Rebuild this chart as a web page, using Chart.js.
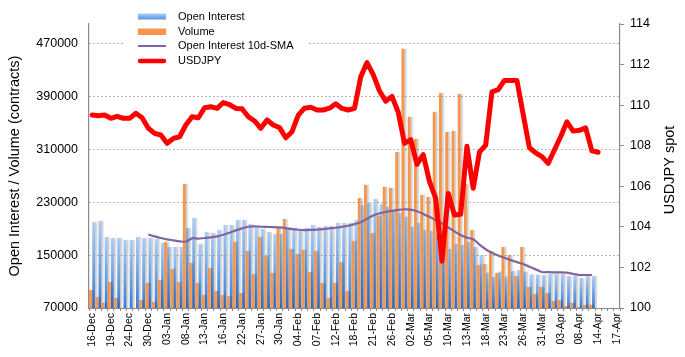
<!DOCTYPE html>
<html><head><meta charset="utf-8">
<script src="https://cdn.jsdelivr.net/npm/chart.js@4.4.1/dist/chart.umd.min.js"></script>
<style>html,body{margin:0;padding:0;background:#fff;}</style>
</head><body>
<canvas id="c" width="685" height="357"></canvas>
<script>
const categories = ['16-Dec','17-Dec','18-Dec','19-Dec','20-Dec','23-Dec','24-Dec','26-Dec','27-Dec','30-Dec','31-Dec','02-Jan','03-Jan','06-Jan','07-Jan','08-Jan','09-Jan','10-Jan','13-Jan','14-Jan','15-Jan','16-Jan','17-Jan','21-Jan','22-Jan','23-Jan','24-Jan','27-Jan','28-Jan','29-Jan','30-Jan','31-Jan','03-Feb','04-Feb','05-Feb','06-Feb','07-Feb','10-Feb','11-Feb','12-Feb','13-Feb','14-Feb','18-Feb','19-Feb','20-Feb','21-Feb','24-Feb','25-Feb','26-Feb','27-Feb','28-Feb','02-Mar','03-Mar','04-Mar','05-Mar','06-Mar','09-Mar','10-Mar','11-Mar','12-Mar','13-Mar','16-Mar','17-Mar','18-Mar','19-Mar','20-Mar','23-Mar','24-Mar','25-Mar','26-Mar','27-Mar','30-Mar','31-Mar','01-Apr','02-Apr','03-Apr','06-Apr','07-Apr','08-Apr','09-Apr','13-Apr','14-Apr','15-Apr','16-Apr','17-Apr'];

const openInterest = [200300,201800,177600,176000,176000,173000,173000,177600,176000,176000,174500,168500,162400,162400,162400,191200,206300,167000,185100,183600,188200,195700,195700,203300,203300,197300,191200,189700,185100,182100,182100,191200,191200,188200,191200,195700,192700,194200,194200,198800,198800,198800,203300,226000,229000,235100,227600,223000,215400,213900,207900,192700,198800,188200,186700,182100,180600,159400,167000,165500,170000,162400,150000,123500,117000,125000,117500,126000,127600,125000,121000,120500,120000,121500,121500,121500,118500,118500,115500,118500,118500,null];

const volume = [97300,86700,78000,109400,85200,null,null,null,82100,107900,79100,112400,170000,129100,109400,257900,138200,107900,89700,130600,95800,89700,88200,170000,92700,156400,121500,177600,148800,123000,192700,204800,159400,151800,157900,124500,156400,107900,85200,107900,139700,95800,171500,236600,256400,183600,210000,253300,251800,306300,462400,359400,326000,241200,238000,367000,395700,336600,338100,394200,257900,188200,135100,136700,156400,123000,162400,150300,118500,162400,101800,91200,101800,92700,80600,82100,73000,77600,71500,74500,75000,null];

const oiSma10 = [null,null,null,null,null,null,null,null,null,181000,178500,176000,174000,172500,171000,170500,175500,175000,176000,177000,178500,181000,184000,187500,190500,193000,193500,193000,192700,192500,192000,191000,189500,188500,188000,188200,188700,189500,190500,191500,193000,194500,197000,200000,205000,210000,213500,215500,217000,218500,219500,219000,216500,212500,208000,203000,198000,192000,186000,180500,176500,174000,166000,159000,153500,149500,146000,142500,139500,136500,132500,128500,124500,124200,124000,124000,123500,121500,120000,120000,120000,null];

const usdjpy = [109.51,109.48,109.51,109.35,109.45,109.35,109.35,109.6,109.38,108.86,108.61,108.53,108.12,108.36,108.44,109.02,109.43,109.38,109.87,109.92,109.84,110.13,110.03,109.84,109.82,109.43,109.22,108.86,109.27,109.02,108.89,108.39,108.69,109.51,109.85,109.9,109.76,109.76,109.85,110.07,109.84,109.76,109.84,111.4,112.1,111.5,110.7,110.2,110.43,109.65,108.12,108.3,107.08,107.56,106.24,105.4,102.3,105.65,104.58,104.62,107.97,105.9,107.68,108.03,110.66,110.76,111.22,111.22,111.22,109.55,107.9,107.65,107.46,107.13,107.79,108.44,109.18,108.72,108.76,108.88,107.75,107.68];

const seriesNames = ['Open Interest','Volume','Open Interest 10d-SMA','USDJPY'];
const leftTitle = 'Open Interest / Volume (contracts)';
const rightTitle = 'USDJPY spot';
const leftTicks = [70000,150000,230000,310000,390000,470000];
const rightTicks = [100,102,104,106,108,110,112,114];
const labelEvery = 3;

const FONT = "'Liberation Sans', Arial, sans-serif";
const AXIS_GREY = '#8a8a8a';

function oiFill(ctx) {
  const chart = ctx.chart;
  const area = chart.chartArea;
  if (!area || ctx.type !== 'data' || ctx.raw == null) return '#6fa8ee';
  const top = chart.scales.y.getPixelForValue(ctx.raw);
  const g = chart.ctx.createLinearGradient(0, top, 0, area.bottom);
  g.addColorStop(0, '#a9cef8');
  g.addColorStop(1, '#3c7cd4');
  return g;
}

const barShadow = {
  id: 'barShadow',
  beforeDatasetDraw(chart, args) {
    const ds = chart.data.datasets[args.index];
    if (ds.type === 'bar') {
      const c = chart.ctx;
      c.save();
      c.shadowColor = 'rgba(0,0,0,0.2)';
      c.shadowOffsetX = 2;
      c.shadowOffsetY = 0;
      c.shadowBlur = 1.5;
    }
  },
  afterDatasetDraw(chart, args) {
    const ds = chart.data.datasets[args.index];
    if (ds.type === 'bar') chart.ctx.restore();
  }
};

const customLegend = {
  id: 'customLegend',
  afterDraw(chart) {
    const c = chart.ctx;
    c.save();
    c.fillStyle = '#ffffff';
    c.fillRect(125, 8, 182, 60);
    const rows = [16.5, 31.5, 46, 61];
    const x0 = 138, x1 = 166, tx = 178;
    let g = c.createLinearGradient(0, 13.5, 0, 19.5);
    g.addColorStop(0, '#a9cef8'); g.addColorStop(1, '#5a95e2');
    c.fillStyle = g; c.fillRect(x0, 13.5, x1 - x0, 6);
    c.fillStyle = '#f7964a'; c.fillRect(x0, 28.5, x1 - x0, 6.5);
    c.strokeStyle = '#8064a2'; c.lineWidth = 2; c.lineCap = 'butt';
    c.beginPath(); c.moveTo(x0, rows[2]); c.lineTo(x1, rows[2]); c.stroke();
    c.strokeStyle = '#ff0000'; c.lineWidth = 4.5; c.lineCap = 'round';
    c.beginPath(); c.moveTo(x0 + 2, rows[3]); c.lineTo(x1 - 2, rows[3]); c.stroke();
    c.fillStyle = '#000'; c.font = '11px ' + FONT; c.textBaseline = 'middle'; c.textAlign = 'left';
    seriesNames.forEach((n, i) => c.fillText(n, tx, rows[i]));
    // right axis title, reading bottom-to-top
    const a = chart.chartArea;
    c.translate(670, (a.top + a.bottom) / 2 + 4);
    c.rotate(-Math.PI / 2);
    c.textAlign = 'center';
    c.font = '14.5px ' + FONT;
    c.fillText(rightTitle, 0, 0);
    c.restore();
  }
};

new Chart(document.getElementById('c'), {
  type: 'bar',
  data: {
    labels: categories,
    datasets: [
      { type: 'line', label: seriesNames[3], data: usdjpy, yAxisID: 'y1', borderColor: '#ff0000', borderWidth: 5, pointRadius: 0, tension: 0, borderJoinStyle: 'round', borderCapStyle: 'round', order: 0 },
      { type: 'line', label: seriesNames[2], data: oiSma10, yAxisID: 'y', borderColor: '#8064a2', borderWidth: 2.2, pointRadius: 0, tension: 0.3, order: 1 },
      { type: 'bar', label: seriesNames[0], data: openInterest, yAxisID: 'y', backgroundColor: oiFill, borderWidth: 0, categoryPercentage: 1.0, barPercentage: 0.9, order: 3 },
      { type: 'bar', label: seriesNames[1], data: volume, yAxisID: 'y', backgroundColor: '#f7964a', borderWidth: 0, categoryPercentage: 1.0, barPercentage: 0.9, order: 2 }
    ]
  },
  options: {
    responsive: false,
    animation: false,
    devicePixelRatio: 1,
    layout: { padding: { top: 24, left: 0, right: 0, bottom: 0 } },
    plugins: { legend: { display: false }, tooltip: { enabled: false } },
    scales: {
      x: {
        offset: true,
        afterFit: s => { s.height = 49; },
        grid: { display: true, drawOnChartArea: false, drawTicks: true, tickLength: 3, color: AXIS_GREY, offset: true },
        border: { color: AXIS_GREY, width: 1 },
        ticks: {
          autoSkip: false, maxRotation: 90, minRotation: 90, padding: 2,
          color: '#000', font: { family: FONT, size: 10.5 },
          callback: (v, i) => (i % labelEvery === 0 ? categories[i] : '')
        }
      },
      y: {
        position: 'left',
        min: 70000, max: 500000,
        afterFit: s => { s.width = 89; },
        afterBuildTicks: s => { s.ticks = leftTicks.map(v => ({ value: v })); },
        grid: { drawTicks: false, lineWidth: 1, color: c => (c.tick && c.tick.value === leftTicks[0] ? 'rgba(0,0,0,0)' : '#a0a0a0') },
        border: { color: AXIS_GREY, width: 1.2, dash: [1.5, 2.5] },
        ticks: { padding: 11, color: '#000', font: { family: FONT, size: 12.5 }, callback: v => String(v) },
        title: { display: true, text: leftTitle, color: '#000', font: { family: FONT, size: 14.5 }, padding: { top: 6, bottom: 0 } }
      },
      y1: {
        position: 'right',
        min: 100, max: 114,
        afterFit: s => { s.width = 65; },
        afterBuildTicks: s => { s.ticks = rightTicks.map(v => ({ value: v })); },
        grid: { drawOnChartArea: false, drawTicks: true, tickLength: 4, color: AXIS_GREY },
        border: { color: AXIS_GREY, width: 1.2 },
        ticks: { padding: 6, color: '#000', font: { family: FONT, size: 12.5 } },
        title: { display: false }
      }
    }
  },
  plugins: [barShadow, customLegend]
});
</script>
</body></html>
